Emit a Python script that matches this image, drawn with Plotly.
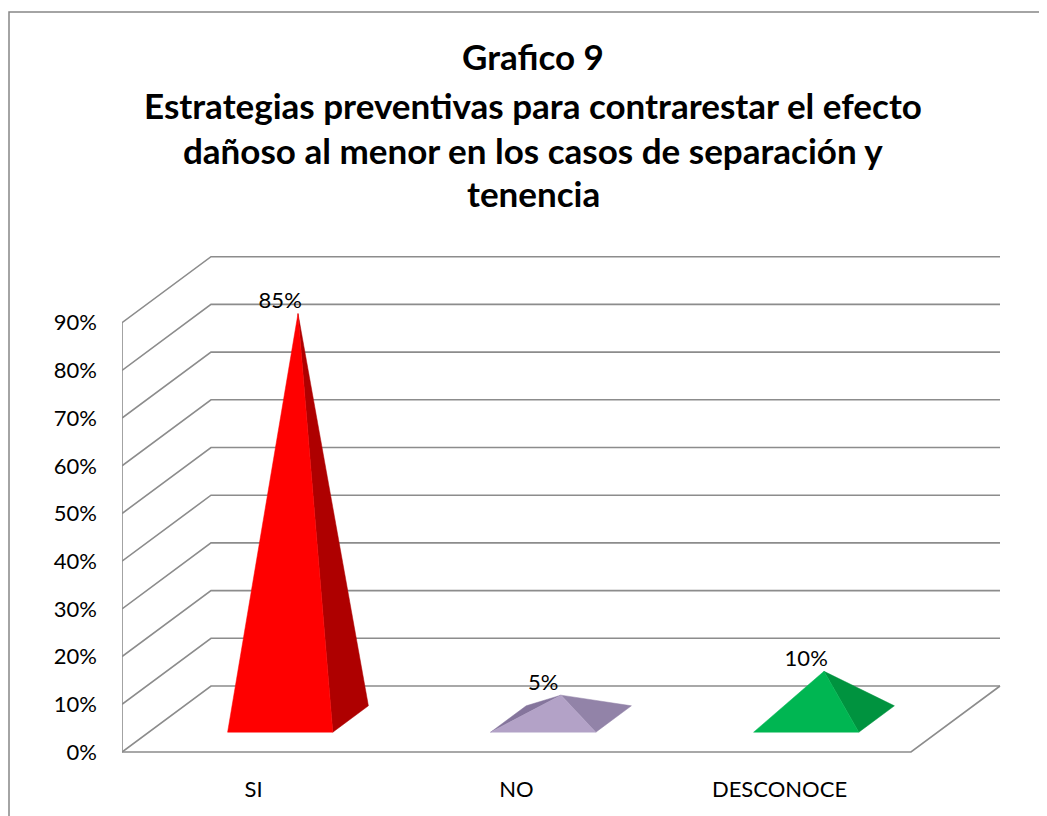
import plotly.graph_objects as go

# ---------------- data ----------------
categories = ["SI", "NO", "DESCONOCE"]
values = [0.85, 0.05, 0.10]
value_labels = ["85%", "5%", "10%"]
y_ticks = [0.0, 0.1, 0.2, 0.3, 0.4, 0.5, 0.6, 0.7, 0.8, 0.9]
y_tick_labels = ["0%", "10%", "20%", "30%", "40%", "50%", "60%", "70%", "80%", "90%"]
title_lines = [
    "Grafico 9",
    "Estrategias preventivas para contrarestar el efecto",
    "dañoso al menor en los casos de separación y",
    "tenencia",
]

# ---------------- style ----------------
front_colors = ["#FF0000", "#B3A2C7", "#00B652"]
right_colors = ["#AE0000", "#9283A8", "#00933F"]
left_colors = ["#C00000", "#85759C", "#00A049"]
back_colors = ["#C80000", "#8A7AA0", "#00A049"]
grid_color = "#8C8C8C"
FONT = "Lato"

FIG_W, FIG_H = 1047, 816
OFF = 8                                   # page body margin
PL, PT, PR, PB = 122 - OFF, 250 - OFF, 1003 - OFF, 760 - OFF   # plot-area edges
X_UNIT, Y_UNIT = 263, 477                 # pixels per category / per 100%
plot_w, plot_h = PR - PL, PB - PT

# oblique projection of depth (0 = front, 1 = back wall) in axis units
DX = 89 / X_UNIT
DY = 66 / Y_UNIT
BAR_W = 0.4
D0, D1 = 0.3, 0.7
n = len(categories)
x_left, x_right = -0.5, n - 0.5
y_bottom = -8 / Y_UNIT


def proj(x, y, d):
    return x + d * DX, y + d * DY


fig = go.Figure()

# --- walls / floor gridlines built from the tick array ---
gx, gy = [], []
for t in y_ticks:
    a = proj(x_left, t, 0)
    b = proj(x_left, t, 1)
    c = proj(x_right, t, 1)
    gx += [a[0], b[0], c[0], None]
    gy += [a[1], b[1], c[1], None]
p0 = proj(x_left, y_ticks[0], 0)
p1 = proj(x_left, y_ticks[-1], 0)
gx += [p1[0], p0[0], None]
gy += [p1[1], p0[1], None]
f1 = proj(x_right, y_ticks[0], 0)
f2 = proj(x_right, y_ticks[0], 1)
gx += [p0[0], f1[0], f2[0], None]
gy += [p0[1], f1[1], f2[1], None]
fig.add_trace(go.Scatter(x=gx, y=gy, mode="lines",
                         line=dict(color=grid_color, width=1.6),
                         hoverinfo="skip", showlegend=False))


# --- pyramids ---
def signed_area(pts):
    s = 0.0
    for i in range(len(pts)):
        x1, y1 = pts[i]
        x2, y2 = pts[(i + 1) % len(pts)]
        s += x1 * y2 - x2 * y1
    return s


for i, v in enumerate(values):
    x0, x1 = i - BAR_W / 2, i + BAR_W / 2
    A = proj(x0, 0, D0)
    B = proj(x1, 0, D0)
    C = proj(x1, 0, D1)
    Dp = proj(x0, 0, D1)
    P = proj(i, v, (D0 + D1) / 2)
    faces = [
        ([C, Dp, P], back_colors[i]),
        ([Dp, A, P], left_colors[i]),
        ([B, C, P], right_colors[i]),
        ([A, B, P], front_colors[i]),
    ]
    for pts, col in faces:
        if signed_area(pts) <= 0:
            continue
        fig.add_trace(go.Scatter(
            x=[p[0] for p in pts] + [pts[0][0]],
            y=[p[1] for p in pts] + [pts[0][1]],
            mode="lines", fill="toself", fillcolor=col,
            line=dict(color=col, width=0.5),
            hoverinfo="skip", showlegend=False))

# --- data labels ---
lx = [i + D0 * DX for i in range(n)]
ly = [v + 0.5 * DY for v in values]
fig.add_trace(go.Scatter(x=lx, y=ly, mode="text", text=value_labels,
                         textposition="top center",
                         textfont=dict(family=FONT, size=22, color="#000000"),
                         hoverinfo="skip", showlegend=False))

# --- title (one annotation per line), centres in screen pixels ---
title_px = [56, 105, 150, 193]
for line, py in zip(title_lines, title_px):
    fig.add_annotation(text="<b>%s</b>" % line, x=(533 - OFF - PL) / plot_w,
                       y=(PB - (py - OFF)) / plot_h,
                       xref="paper", yref="paper", showarrow=False,
                       xanchor="center", yanchor="middle",
                       font=dict(family=FONT, size=35, color="#000000"))

# outer chart frame
fig.add_shape(type="rect", xref="paper", yref="paper",
              x0=(1 - PL) / plot_w, x1=1.3,
              y0=-0.4, y1=(PB - (12 - OFF)) / plot_h,
              line=dict(color="#868686", width=1.5), layer="below")

fig.update_layout(
    width=FIG_W, height=FIG_H,
    margin=dict(l=PL, r=FIG_W - PR, t=PT, b=FIG_H - PB, pad=0),
    paper_bgcolor="white", plot_bgcolor="white",
    xaxis=dict(range=[x_left, x_left + plot_w / X_UNIT], showgrid=False, zeroline=False,
               showline=False, tickvals=list(range(n)), ticktext=categories,
               ticks="", ticklabelstandoff=14,
               tickfont=dict(family=FONT, size=22, color="#000000"), fixedrange=True),
    yaxis=dict(range=[y_bottom, y_bottom + plot_h / Y_UNIT], showgrid=False, zeroline=False,
               showline=False, tickvals=y_ticks, ticktext=y_tick_labels,
               ticks="", ticklabelstandoff=24,
               tickfont=dict(family=FONT, size=22, color="#000000"), fixedrange=True),
    showlegend=False,
)

fig.write_html("out.html")
